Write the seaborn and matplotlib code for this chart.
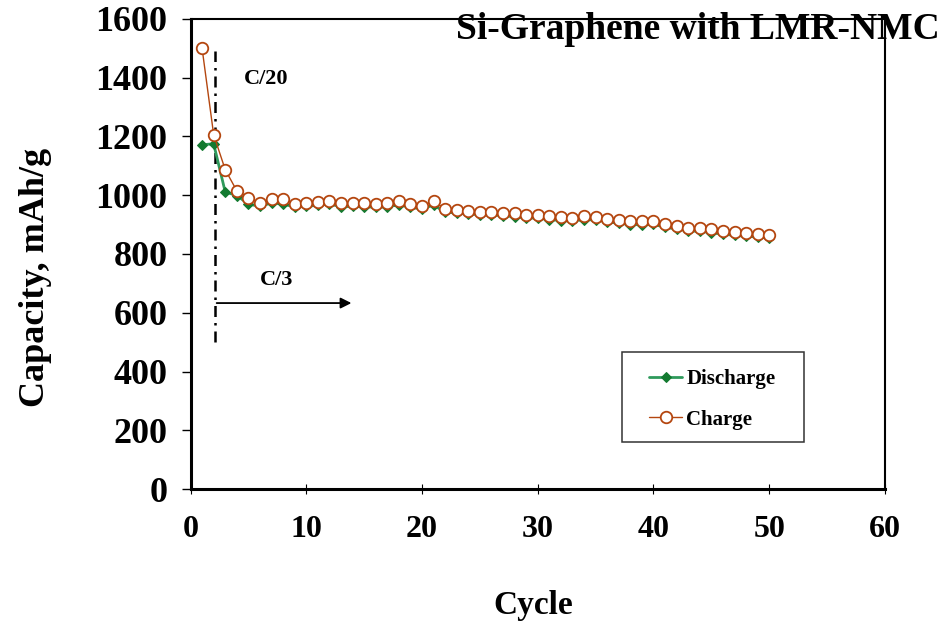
import matplotlib
matplotlib.use("Agg")
import matplotlib.pyplot as plt
import pandas as pd
import seaborn as sns
from matplotlib.patches import Rectangle

# Cycling data: specific capacity (mAh/g) per cycle
cycles = list(range(1, 51))
discharge = [1172, 1175, 1011, 999, 970, 962, 974, 970, 960, 962,
             966, 970, 961, 962, 961, 959, 961, 967, 959, 953,
             967, 942, 940, 937, 933, 933, 930, 927, 923, 922,
             917, 914, 913, 917, 916, 909, 905, 900, 900, 901,
             891, 885, 879, 877, 873, 867, 864, 860, 858, 854]
charge = [1500, 1206, 1087, 1015, 992, 972, 986, 987, 971, 973,
          977, 982, 972, 973, 972, 970, 973, 979, 970, 964,
          979, 954, 951, 948, 944, 944, 941, 938, 934, 933,
          928, 925, 924, 928, 927, 920, 916, 911, 911, 912,
          902, 896, 890, 888, 884, 878, 875, 871, 869, 865]

x_ticks = [0, 10, 20, 30, 40, 50, 60]
y_ticks = [0, 200, 400, 600, 800, 1000, 1200, 1400, 1600]

# Rate annotations
rate_change_cycle = 2.1
slow_rate_label = "C/20"
fast_rate_label = "C/3"

sns.set_style("ticks")
plt.rcParams["font.family"] = ["Liberation Serif", "DejaVu Serif"]
plt.rcParams["font.weight"] = "bold"
for key in ["text.color", "axes.labelcolor", "xtick.color", "ytick.color",
            "axes.edgecolor"]:
    plt.rcParams[key] = "black"

green_line = "#2F9A5C"
green_mark = "#137A30"
brown = "#B4460F"

df = pd.DataFrame({"Cycle": cycles, "Discharge": discharge, "Charge": charge})

fig = plt.figure(figsize=(9.45, 6.24), dpi=100)
ax = fig.add_axes([0.2016, 0.2163, 0.7349, 0.7533])

sns.lineplot(data=df, x="Cycle", y="Discharge", ax=ax, errorbar=None,
             color=green_line, linewidth=2.0, marker="D", markersize=5.2,
             markerfacecolor=green_mark, markeredgecolor=green_mark,
             label="Discharge", zorder=3)
sns.lineplot(data=df, x="Cycle", y="Charge", ax=ax, errorbar=None,
             color=brown, linewidth=1.0, marker="o", markersize=8.3,
             markerfacecolor="white", markeredgecolor=brown,
             markeredgewidth=1.3, label="Charge", zorder=4)

ax.set_xlim(0, 60)
ax.set_ylim(0, 1600)
ax.set_xticks(x_ticks)
ax.set_yticks(y_ticks)

for side in ["left", "bottom"]:
    ax.spines[side].set_linewidth(2.2)
for side in ["top", "right"]:
    ax.spines[side].set_linewidth(1.5)
for sp in ax.spines.values():
    sp.set_color("black")
    sp.set_visible(True)

ax.tick_params(axis="y", direction="out", length=6.5, width=1.0,
               pad=10, labelsize=26, colors="black")
ax.tick_params(axis="x", direction="inout", length=7, width=0.8,
               pad=15, labelsize=23, colors="black")
for lab in ax.get_xticklabels() + ax.get_yticklabels():
    lab.set_fontweight("bold")

ax.set_xlabel("Cycle", fontsize=24, fontweight="bold", color="black")
ax.set_ylabel("Capacity, mAh/g", fontsize=26, fontweight="bold",
              color="black")
ax.xaxis.label.set_va("center")
ax.yaxis.label.set_va("center")
ax.xaxis.set_label_coords(0.4932, -0.2468)
ax.yaxis.set_label_coords(-0.2239, 0.45)

# Rate change marker and labels
ax.vlines(rate_change_cycle, 500, 1490, colors="black", linewidth=1.8,
          linestyles=[(0, (4.4, 2.4, 1.0, 2.4))], zorder=2)
ax.text(6.5, 1395, slow_rate_label, ha="center", va="center",
        fontsize=16, fontweight="bold", color="black")
ax.text(7.47, 712, fast_rate_label, ha="center", va="center",
        fontsize=16, fontweight="bold", color="black")
ax.annotate("", xy=(13.9, 633), xytext=(2.26, 633),
            arrowprops=dict(arrowstyle="-|>", color="black", lw=1.3,
                            mutation_scale=16, shrinkA=0, shrinkB=0))

# Legend with a plain rectangular frame
handles, labels = ax.get_legend_handles_labels()
leg = ax.legend(handles, labels, loc="center left",
                bbox_to_anchor=(0.660, 0.191), frameon=False,
                prop={"size": 15, "weight": "bold"},
                handlelength=1.6, handletextpad=0.2, labelspacing=1.0,
                borderpad=0, borderaxespad=0)
for t in leg.get_texts():
    t.set_color("black")
ax.add_patch(Rectangle((0.622, 0.1006), 0.261, 0.191, transform=ax.transAxes,
                       fill=False, edgecolor="#333333", linewidth=1.1,
                       zorder=5))

fig.text(0.7386, 0.952, "Si-Graphene with LMR-NMC", ha="center",
         va="center", fontsize=27, fontweight="bold", color="black")

fig.savefig("out.png", dpi=100, facecolor="white")
